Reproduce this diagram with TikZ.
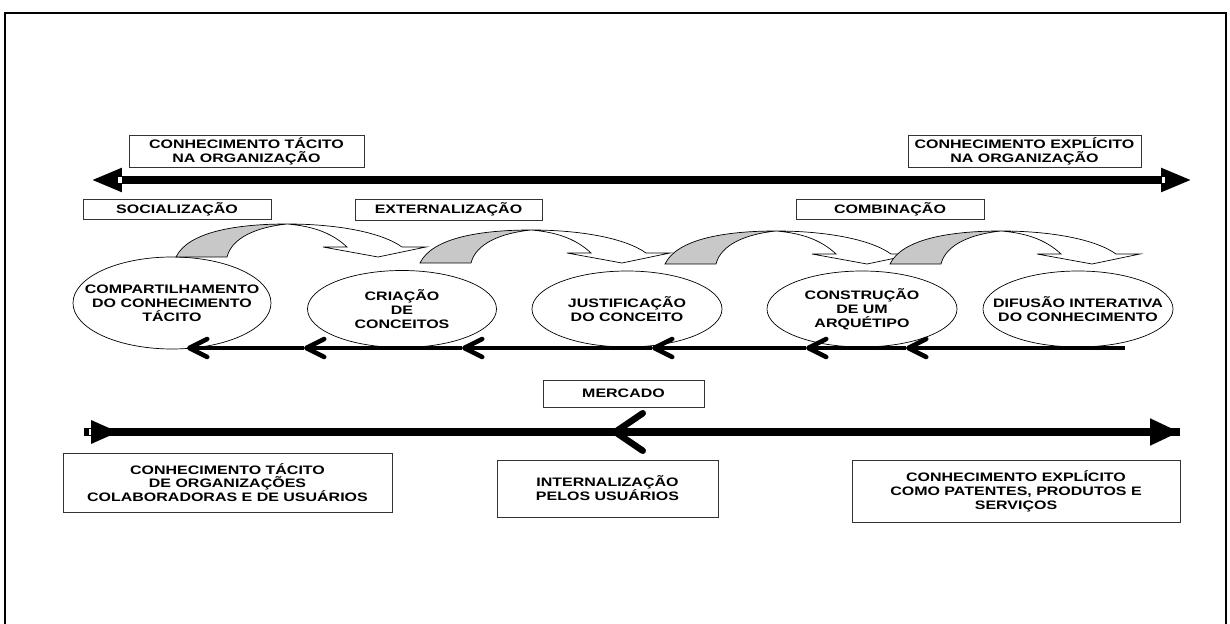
\documentclass[tikz,border=0pt]{standalone}
\usepackage{fontspec}
\newfontfamily\lblfont{Liberation Sans}[FakeStretch=1.3]
\usetikzlibrary{shapes.geometric,arrows.meta}
\newdimen\pxu \pxu=0.02cm
\definecolor{bandgray}{RGB}{200,200,200}

\begin{document}
\begin{tikzpicture}[x=0.02cm,y=-0.02cm,
  lbl/.style={font=\lblfont\bfseries\fontsize{7}{7.9}\selectfont,align=center,inner sep=0pt},
  box/.style={lbl,draw=black!80,line width=0.5pt},
  blob/.style={ellipse,draw,line width=0.4pt,fill=white,inner sep=0pt},
  band/.style={draw,line width=0.4pt},
  bigline/.style={line width=8\pxu},
  midline/.style={line width=4.5\pxu,-{Straight Barb[length=0.36cm,width=0.36cm,line width=0.09cm,round]}}]
\useasboundingbox (0,0) rectangle (1230,624);
% frame
\draw[line width=2\pxu] (5,624) -- (5,13) -- (1226,13) -- (1226,624);

% top labels
\node[box,minimum width=235\pxu,minimum height=32\pxu] (tacit) at (246.5,151) {CONHECIMENTO TÁCITO\\NA ORGANIZAÇÃO};
\node[box,minimum width=233\pxu,minimum height=32\pxu] (explicit) at (1024.5,151) {CONHECIMENTO EXPLÍCITO\\NA ORGANIZAÇÃO};
\node[box,minimum width=188\pxu,minimum height=20\pxu] (soc) at (177,209) {SOCIALIZAÇÃO};
\node[box,minimum width=187\pxu,minimum height=21\pxu] (ext) at (448.5,209.5) {EXTERNALIZAÇÃO};
\node[box,minimum width=188\pxu,minimum height=20\pxu] (comb) at (890,209) {COMBINAÇÃO};

% top arrow
\coordinate (tl) at (91,180);
\coordinate (tr) at (1192,180);
\draw[bigline,{Triangle[length=0.62cm,width=0.44cm]}-{Triangle[length=0.62cm,width=0.44cm]}] (tl) -- (tr);
\fill[white] (tl) ++(27,-3) rectangle ++(4,6);
\fill[white] (tr) ++(-30,-3) rectangle ++(3,6);

% phases
\node[blob,minimum width=198\pxu,minimum height=92\pxu] (share) at (172,303) {};
\node[blob,minimum width=189\pxu,minimum height=77\pxu] (create) at (402,309) {};
\node[blob,minimum width=190\pxu,minimum height=76\pxu] (justify) at (627,309) {};
\node[blob,minimum width=190\pxu,minimum height=76\pxu] (build) at (862,309) {};
\node[blob,minimum width=190\pxu,minimum height=76\pxu] (spread) at (1078,309) {};
\node[lbl] (share-t) at (share) {COMPARTILHAMENTO\\DO CONHECIMENTO\\TÁCITO};
\node[lbl] (create-t) at (create) {CRIAÇÃO\\DE\\CONCEITOS};
\node[lbl] (justify-t) at (justify) {JUSTIFICAÇÃO\\DO CONCEITO};
\node[lbl] (build-t) at (build) {CONSTRUÇÃO\\DE UM\\ARQUÉTIPO};
\node[lbl] (spread-t) at (spread) {DIFUSÃO INTERATIVA\\DO CONHECIMENTO};

% curved arrows
\foreach \bx/\by in {176/257,420/263,665/264,890/264}{
  \begin{scope}[shift={(\bx,\by)}]
    \filldraw[band,fill=bandgray] (0,0) .. controls (12,-25) and (60,-33) .. (111,-33)
      .. controls (82,-30) and (56,-20) .. (51,0) -- cycle;
    \filldraw[band,fill=white] (111,-33) .. controls (160,-33) and (205,-25) .. (226,-10)
      -- (250,-10) -- (202,0) -- (147,-10) -- (171,-10)
      .. controls (155,-25) and (135,-31) .. (111,-33) -- cycle;
  \end{scope}}

% return line
\coordinate (m0) at (1125,348);
\coordinate (t6) at (906,348);
\coordinate (t5) at (806,348);
\coordinate (t4) at (652,348);
\coordinate (t3) at (462,348);
\coordinate (t2) at (304,348);
\coordinate (t1) at (187,348);
\foreach \a/\b in {m0/t6,t6/t5,t5/t4,t4/t3,t3/t2,t2/t1}
  \draw[midline] (\a) -- (\b);

% market
\node[box,minimum width=161\pxu,minimum height=27\pxu] (market) at (623.5,393.5) {MERCADO};
\coordinate (bl) at (84,432);
\coordinate (br) at (1180,432);
\coordinate (mk) at (612,432);
\draw[bigline,-{Triangle[length=0.6cm,width=0.5cm]}] (bl) -- (br);
\fill[white] (br) ++(-31,-3) rectangle ++(3,6);
\fill (bl) ++(7,-12) -- ++(27,12) -- ++(-27,12) -- cycle;
\fill[white] (bl) ++(5,-3) rectangle ++(2,6);
\draw[bigline,-{Straight Barb[length=0.55cm,width=0.75cm,line width=0.13cm,round]}] (br) -- (mk);

\node[box,minimum width=329\pxu,minimum height=59\pxu] (partners) at (227.5,482.5) {CONHECIMENTO TÁCITO\\DE ORGANIZAÇÕES\\COLABORADORAS E DE USUÁRIOS};
\node[box,minimum width=221\pxu,minimum height=57\pxu] (intern) at (607.5,488.5) {INTERNALIZAÇÃO\\PELOS USUÁRIOS};
\node[box,minimum width=328\pxu,minimum height=62\pxu] (patents) at (1016,491) {CONHECIMENTO EXPLÍCITO\\COMO PATENTES, PRODUTOS E\\SERVIÇOS};
\end{tikzpicture}
\end{document}
